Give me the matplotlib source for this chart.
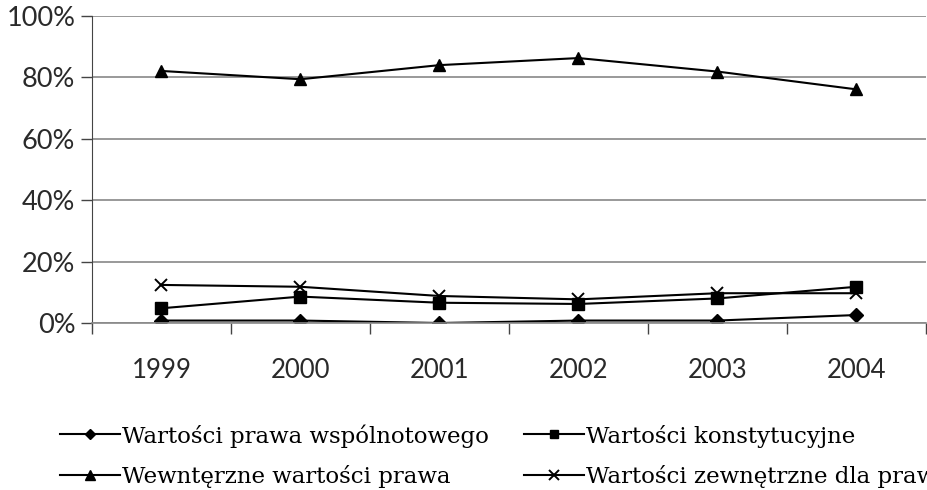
import matplotlib
matplotlib.use('Agg')
import matplotlib.pyplot as plt
from matplotlib.ticker import FixedLocator, NullFormatter

years = ['1999', '2000', '2001', '2002', '2003', '2004']
wspolnotowe = [0.8, 0.8, 0.0, 0.8, 0.8, 2.6]
konstytucyjne = [4.8, 8.6, 6.6, 6.2, 8.0, 11.8]
wewnetrzne = [82.1, 79.4, 84.0, 86.3, 81.9, 76.1]
zewnetrzne = [12.4, 11.8, 8.8, 7.7, 9.7, 9.7]

labels = ['Wartości prawa wspólnotowego', 'Wartości konstytucyjne',
          'Wewntęrzne wartości prawa', 'Wartości zewnętrzne dla prawa']

fig = plt.figure(figsize=(9.28, 4.9), dpi=100)
ax = fig.add_axes([92/928, 1-323/490, 834/928, 307/490])

x = list(range(len(years)))
lw = 1.5
h1, = ax.plot(x, wspolnotowe, 'k-', marker='D', ms=7, lw=lw, label=labels[0])
h2, = ax.plot(x, konstytucyjne, 'k-', marker='s', ms=8, lw=lw, label=labels[1])
h3, = ax.plot(x, wewnetrzne, 'k-', marker='^', ms=9, lw=lw, label=labels[2])
h4, = ax.plot(x, zewnetrzne, 'k-', marker='x', ms=9, mew=1.4, lw=lw, label=labels[3])

ax.set_xlim(-0.5, len(years) - 0.5)
ax.set_ylim(0, 100)
ax.set_yticks(range(0, 101, 20))
ax.set_yticklabels([f'{v}%' for v in range(0, 101, 20)], family='Lato', fontsize=19.5, color='#2a2a2a')
ax.yaxis.grid(True, color='#888888', lw=1.2)
ax.set_axisbelow(True)

# category ticks sit between the years, year labels in the middle
ax.xaxis.set_major_locator(FixedLocator([i + 0.5 for i in range(-1, len(years))]))
ax.xaxis.set_major_formatter(NullFormatter())
ax.xaxis.set_minor_locator(FixedLocator(x))
ax.set_xticklabels(years, minor=True, family='Lato', fontsize=18.5, color='#2a2a2a')
ax.tick_params(axis='x', which='minor', length=0, pad=25)
ax.tick_params(axis='x', which='major', length=8, width=1, color='#444444', direction='out')
ax.tick_params(axis='y', length=8, width=1, color='#444444', pad=4)

for s in ['top', 'right']:
    ax.spines[s].set_visible(False)
ax.spines['left'].set_color('#444444')
ax.spines['bottom'].set_color('#888888')
ax.spines['bottom'].set_linewidth(1.2)

leg = fig.legend([h1, h3, h2, h4], [labels[0], labels[2], labels[1], labels[3]],
                 ncol=2, loc='upper left', bbox_to_anchor=(60/928, 1-424/490),
                 frameon=False, prop={'family': 'DejaVu Serif', 'size': 16.5},
                 handlelength=2.6, handletextpad=0.1, columnspacing=1.55,
                 labelspacing=0.75, markerscale=0.8, borderaxespad=0, borderpad=0)

fig.savefig('out.png', dpi=100)
